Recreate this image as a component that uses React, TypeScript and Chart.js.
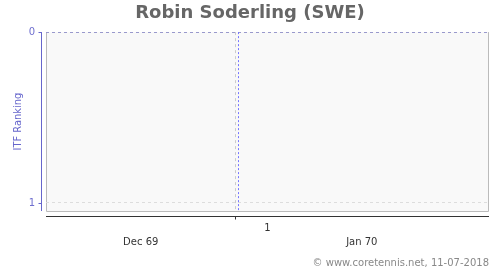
import React, { useEffect, useRef } from "react";
import { Chart, registerables } from "chart.js";

Chart.register(...registerables);

const titleText = "Robin Soderling (SWE)";
const yAxisTitle = "ITF Ranking";
const footerText = "\u00a9 www.coretennis.net, 11-07-2018";
const xRange = [0, 2.333];
const yRange = [0, 1.047];
const yTicks = [0, 1];
const weekTicks = [1];
const weekLabels = ["1"];
const monthPositions = [0.5, 1.667];
const monthLabels = ["Dec 69", "Jan 70"];
const markerX = [1.016];

const decorPlugin = {
  id: "decor",
  beforeDraw(chart: any) {
    const { ctx, chartArea: a } = chart;
    ctx.save();
    ctx.fillStyle = "#f9f9f9";
    ctx.fillRect(a.left, a.top, a.right - a.left, a.bottom - a.top);
    ctx.strokeStyle = "#bbbbbb";
    ctx.lineWidth = 1;
    ctx.beginPath();
    ctx.moveTo(a.left + 0.5, a.top);
    ctx.lineTo(a.left + 0.5, a.bottom + 0.5);
    ctx.lineTo(a.right + 0.5, a.bottom + 0.5);
    ctx.lineTo(a.right + 0.5, a.top);
    ctx.stroke();
    ctx.restore();
  },
  afterDraw(chart: any) {
    const { ctx, chartArea: a } = chart;
    const xs = chart.scales.x;
    const ys = chart.scales.y;
    ctx.save();
    // marker line
    ctx.strokeStyle = "#7777ff";
    ctx.setLineDash([2, 2]);
    markerX.forEach((v) => {
      const px = Math.round(xs.getPixelForValue(v)) + 0.5;
      ctx.beginPath();
      ctx.moveTo(px, a.top);
      ctx.lineTo(px, a.bottom);
      ctx.stroke();
    });
    ctx.setLineDash([]);
    // y axis line
    ctx.strokeStyle = "#6666cc";
    const yx = a.left - 4.5;
    ctx.beginPath();
    ctx.moveTo(yx, a.top);
    ctx.lineTo(yx, a.bottom);
    ctx.stroke();
    yTicks.forEach((v) => {
      const py = Math.round(ys.getPixelForValue(v)) + 0.5;
      ctx.beginPath();
      ctx.moveTo(yx - 3, py);
      ctx.lineTo(yx, py);
      ctx.stroke();
    });
    // x axis line
    ctx.strokeStyle = "#333333";
    const xy = a.bottom + 5.5;
    ctx.beginPath();
    ctx.moveTo(a.left, xy);
    ctx.lineTo(a.right + 1, xy);
    ctx.stroke();
    weekTicks.forEach((v) => {
      const px = Math.round(xs.getPixelForValue(v)) + 0.5;
      ctx.beginPath();
      ctx.moveTo(px, xy);
      ctx.lineTo(px, xy + 3);
      ctx.stroke();
    });
    // footer
    ctx.fillStyle = "#888888";
    ctx.font = "10px 'DejaVu Sans'";
    ctx.textAlign = "right";
    ctx.textBaseline = "middle";
    ctx.fillText(footerText, chart.width - 11, 263);
    ctx.restore();
  },
};

export default function App() {
  const ref = useRef<HTMLCanvasElement>(null);
  useEffect(() => {
    if (!ref.current) return;
    const chart = new Chart(ref.current, {
      type: "line",
      data: { datasets: [{ data: [] }] },
      options: {
        animation: false,
        responsive: false,
        layout: { padding: 0 },
        plugins: {
          legend: { display: false },
          tooltip: { enabled: false },
          title: {
            display: true,
            text: titleText,
            color: "#666666",
            font: { family: "'DejaVu Sans'", size: 18, weight: "bold" },
            padding: { top: 2.5, bottom: 8 },
          },
        },
        scales: {
          x: {
            type: "linear",
            position: "bottom",
            weight: 0,
            min: xRange[0],
            max: xRange[1],
            afterBuildTicks: (s: any) => {
              s.ticks = weekTicks.map((v) => ({ value: v }));
            },
            afterFit: (s: any) => {
              s.height = 20;
            },
            border: { display: false, dash: [3, 3] },
            grid: {
              drawTicks: false,
              color: "#cccccc",
              lineWidth: 1,
            },
            ticks: {
              padding: 11,
              labelOffset: 32,
              color: "#333333",
              font: { family: "'DejaVu Sans'", size: 10 },
              maxRotation: 0,
              callback: (v: any) => {
                const i = weekTicks.indexOf(v);
                return i >= 0 ? weekLabels[i] : "";
              },
            },
          } as any,
          x2: {
            type: "linear",
            position: "bottom",
            weight: 1,
            min: xRange[0],
            max: xRange[1],
            afterBuildTicks: (s: any) => {
              s.ticks = monthPositions.map((v) => ({ value: v }));
            },
            afterFit: (s: any) => {
              s.height = 39;
            },
            border: { display: false },
            grid: { display: false, drawTicks: false },
            ticks: {
              padding: 5,
              color: "#333333",
              font: { family: "'DejaVu Sans'", size: 10 },
              maxRotation: 0,
              autoSkip: false,
              callback: (v: any) => {
                const i = monthPositions.indexOf(v);
                return i >= 0 ? monthLabels[i] : "";
              },
            },
          } as any,
          y: {
            type: "linear",
            reverse: true,
            min: yRange[0],
            max: yRange[1],
            afterBuildTicks: (s: any) => {
              s.ticks = yTicks.map((v) => ({ value: v }));
            },
            afterFit: (s: any) => {
              s.width = 46;
            },
            border: { display: false, dash: [3, 3] },
            grid: {
              drawTicks: false,
              color: (c: any) => (c.tick && c.tick.value === 0 ? "#9999cc" : "#dddddd"),
            },
            title: {
              display: true,
              text: yAxisTitle,
              color: "#6666cc",
              font: { family: "'DejaVu Sans Condensed', 'DejaVu Sans'", size: 11 },
              padding: { top: 12, bottom: 0 },
            },
            ticks: {
              padding: 11,
              color: "#6f6fcf",
              font: { family: "'DejaVu Sans'", size: 10 },
            },
          } as any,
          yR: {
            type: "linear",
            position: "right",
            min: 0,
            max: 1,
            afterFit: (s: any) => {
              s.width = 12;
            },
            border: { display: false },
            grid: { display: false, drawTicks: false },
            ticks: { display: false },
          } as any,
        },
      },
      plugins: [decorPlugin],
    } as any);
    return () => chart.destroy();
  }, []);
  return (
    <div style={{ position: "fixed", left: 0, top: 0, width: 500, height: 270, background: "#fff" }}>
      <canvas ref={ref} width={500} height={270} />
    </div>
  );
}
